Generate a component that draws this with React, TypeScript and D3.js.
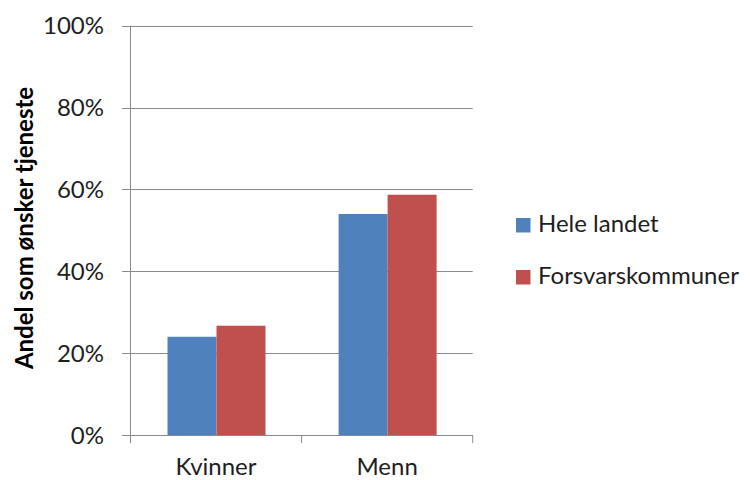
import React from "react";
import * as d3 from "d3";

const categories = ["Kvinner", "Menn"];
const seriesNames = ["Hele landet", "Forsvarskommuner"];
const heleLandet = [0.24, 0.54];
const forsvarskommuner = [0.267, 0.587];
const yTicks = [0, 0.2, 0.4, 0.6, 0.8, 1.0];
const colors = ["#4F81BD", "#C0504D"];
const yTitle = "Andel som ønsker tjeneste";

const FONT = "Lato, 'Open Sans', sans-serif";

export default function App() {
  const W = 750, H = 480;
  const left = 130.5, right = 472.7, top = 25.7, bottom = 435;
  const y = d3.scaleLinear().domain([0, 1]).range([bottom, top]);
  const x0 = d3.scaleBand<string>().domain(categories).range([left, right]).padding(0);
  const x1 = d3.scaleBand<string>().domain(seriesNames).range([37, 135]).padding(0);
  const values = [heleLandet, forsvarskommuner];
  const grid = "#8a8a8a";
  const fmt = d3.format(".0%");

  return (
    <svg width={W} height={H} style={{ position: "absolute", left: 0, top: 0, background: "#fff" }}>
      {yTicks.map((t) => (
        <line key={"g" + t} x1={left - 8.5} x2={right} y1={Math.round(y(t)) + 0.5} y2={Math.round(y(t)) + 0.5} stroke={grid} strokeWidth={1} />
      ))}
      {categories.map((c, ci) =>
        seriesNames.map((s, si) => (
          <rect key={c + s} x={(x0(c) as number) + (x1(s) as number)} y={y(values[si][ci])} width={x1.bandwidth()} height={y(0) - y(values[si][ci])} fill={colors[si]} />
        ))
      )}
      <line x1={left} x2={left} y1={top} y2={bottom} stroke={grid} strokeWidth={1} />
      {[left, ...categories.map((c) => (x0(c) as number) + x0.bandwidth())].map((xx, i) => (
        <line key={"xt" + i} x1={xx} x2={xx} y1={bottom} y2={bottom + 8} stroke={grid} strokeWidth={1} />
      ))}
      {yTicks.map((t) => (
        <text key={"yl" + t} x={104} y={y(t)} dy="0.36em" textAnchor="end" fontFamily={FONT} fontSize={24} fill="#1e1e1e">
          {fmt(t)}
        </text>
      ))}
      {categories.map((c) => (
        <text key={"xl" + c} x={(x0(c) as number) + x0.bandwidth() / 2} y={475} textAnchor="middle" fontFamily={FONT} fontSize={24} fill="#1e1e1e">
          {c}
        </text>
      ))}
      <text transform={`translate(33,228) rotate(-90)`} textAnchor="middle" fontFamily={FONT} fontSize={24} fontWeight="bold" fill="#000">
        {yTitle}
      </text>
      {seriesNames.map((s, i) => (
        <g key={"lg" + s} transform={`translate(516,${218 + i * 52})`}>
          <rect x={0} y={0} width={14.5} height={14.5} fill={colors[i]} />
          <text x={22} y={13.5} fontFamily={FONT} fontSize={24} fill="#1e1e1e">
            {s}
          </text>
        </g>
      ))}
    </svg>
  );
}
